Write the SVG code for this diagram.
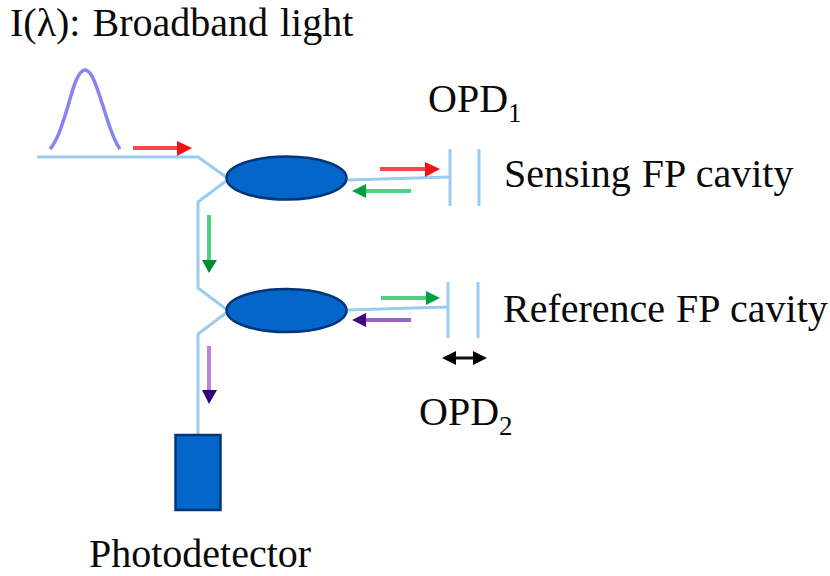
<svg xmlns="http://www.w3.org/2000/svg" width="830" height="576" viewBox="0 0 830 576">
<style>
text{font-family:"Liberation Serif","Times New Roman",serif;font-size:40px;fill:#0a0a0a}
.sub{font-size:27px}
.fiber{fill:none;stroke:#9accf2;stroke-width:3;stroke-linejoin:round}
.shaft{stroke-width:4;fill:none}
.node{fill:#0466c8;stroke:#03367a;stroke-width:2.5}
</style>
<rect width="830" height="576" fill="#fff"/>
<g id="source">
<path d="M50 149C58 140 63 122 68 106C73 88 78 70 85 70C92 70 97 88 103 106C108 122 113 140 120 149" fill="none" stroke="#8585f0" stroke-width="3.5"/>
<text x="10" y="36" word-spacing="2">I(λ): Broadband light</text>
</g>
<g id="connectors">
<path class="fiber" d="M37 157H198L226 177"/>
<path class="fiber" d="M226 181L198 202V288L226 309"/>
<path class="fiber" d="M226 313L198 334V435"/>
<path class="fiber" d="M347 180L450 177"/>
<path class="fiber" d="M347 310L448 307"/>
<g id="flow-arrows">
<path class="shaft" stroke="#f5474f" d="M133 148H178"/><path fill="#f80f14" d="M177 141L192 148L177 156Z"/>
<path class="shaft" stroke="#50cf82" d="M209 215V262"/><path fill="#008a32" d="M202 260H217L209 273Z"/>
<path class="shaft" stroke="#f5474f" d="M380 169H426"/><path fill="#f80f14" d="M425 162L440 169L425 177Z"/>
<path class="shaft" stroke="#50cf82" d="M411 191H365"/><path fill="#00a040" d="M366 184L352 191L366 198Z"/>
<path class="shaft" stroke="#50cf82" d="M381 298H427"/><path fill="#00a040" d="M426 291L440 298L426 305Z"/>
<path class="shaft" stroke="#9a62c8" d="M411 320H365"/><path fill="#3f0a86" d="M366 313L352 320L366 327Z"/>
<path class="shaft" stroke="#b585d6" d="M209 346V392"/><path fill="#32007a" d="M202 390H217L209 404Z"/>
<path stroke="#111" stroke-width="3" d="M450 358H480"/><path fill="#000" d="M456 351L442 358L456 365ZM473 351L487 358L473 365Z"/>
</g>
</g>
<g id="coupler-1"><ellipse class="node" cx="286.500" cy="178" rx="60" ry="21.500"/></g>
<g id="coupler-2"><ellipse class="node" cx="286.500" cy="310.500" rx="60" ry="21.500"/></g>
<g id="photodetector"><rect class="node" x="175.500" y="435" width="45" height="75"/><text x="89" y="567">Photodetector</text></g>
<g id="sensing-cavity">
<path class="fiber" d="M450 149V206M479 149V206"/>
<text x="504" y="187" word-spacing="1">Sensing FP cavity</text>
<text x="428" y="112">OPD<tspan class="sub" dy="10">1</tspan></text>
</g>
<g id="reference-cavity">
<path class="fiber" d="M448 282V338M478 282V338"/>
<text x="503" y="322" word-spacing="1">Reference FP cavity</text>
<text x="419" y="425">OPD<tspan class="sub" dy="10">2</tspan></text>
</g>
</svg>
